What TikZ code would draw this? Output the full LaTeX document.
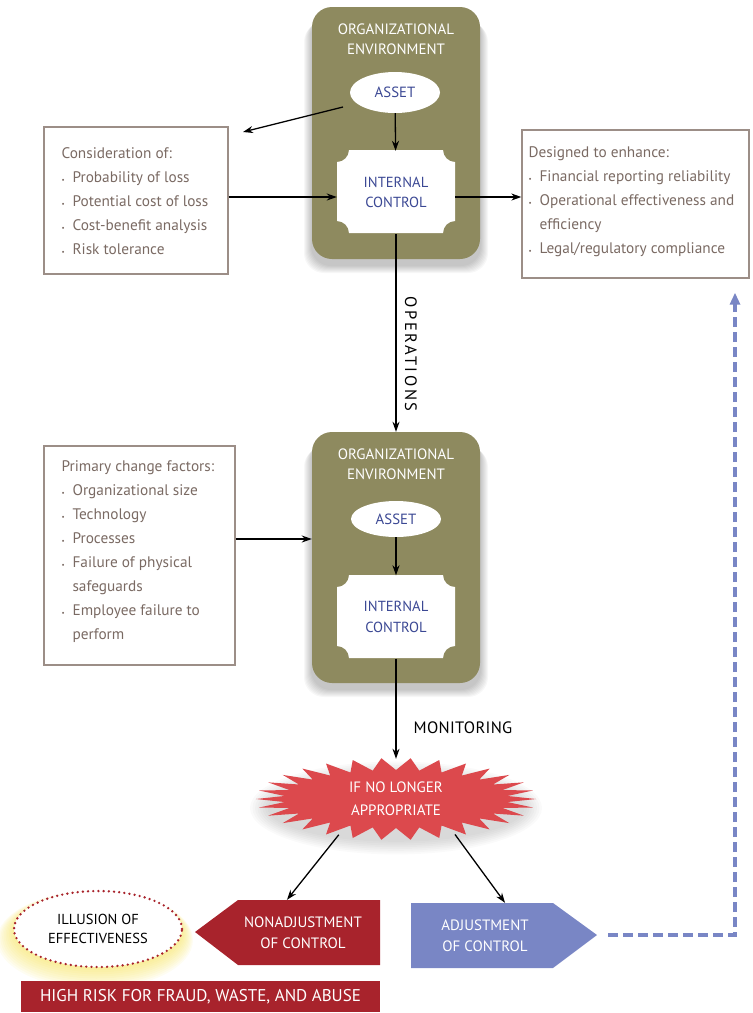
\documentclass[tikz,border=0pt]{standalone}
\usepackage{fontspec}
\setmainfont{PT Sans}
\usetikzlibrary{arrows.meta,shapes.geometric,calc}
\definecolor{envcol}{HTML}{8E8A5F}
\definecolor{boxline}{HTML}{9C8E87}
\definecolor{boxtext}{HTML}{7A6A63}
\definecolor{ictext}{HTML}{3B4894}
\definecolor{burstcol}{HTML}{DC494D}
\definecolor{darkred}{HTML}{A8232C}
\definecolor{adjblue}{HTML}{7986C5}
\definecolor{glowcol}{HTML}{F5E04A}
\newcommand{\bul}{\makebox[11pt][l]{\scriptsize\textbullet}}
\newcommand{\ind}{\hspace*{11pt}}
\begin{document}
\begin{tikzpicture}[x=1pt,y=1pt,
 envbox/.style={fill=envcol, rounded corners=20pt, minimum width=168pt, inner sep=0pt},
 envtitle/.style={text=white, align=center, font=\fontsize{15}{20}\selectfont},
 asset/.style={ellipse, fill=white, minimum width=90pt, inner sep=0pt, text=ictext, font=\fontsize{14.8}{19}\selectfont},
 ictl/.style={minimum width=118pt, minimum height=83pt, inner sep=0pt, text=ictext, align=center, font=\fontsize{14.6}{20.5}\selectfont},
 infobox/.style={draw=boxline, line width=1.3pt, inner sep=0pt},
 infotext/.style={text=boxtext, align=left, anchor=west, inner sep=0pt, font=\fontsize{15.3}{24}\selectfont},
 arr/.style={-{Stealth[length=10pt,width=7pt]}, line width=1.3pt},
 steplabel/.style={inner sep=0pt},
 softshadow/.style={fill=black, opacity=0.03},
 shapetext/.style={text=white, align=center, inner sep=0pt, font=\fontsize{15}{21}\selectfont},
]
\useasboundingbox (0,0) rectangle (753,-1013);

% ---------- soft shadows ----------
\foreach \i in {1,...,8}{
  \fill[softshadow, rounded corners=20pt] ({312-\i},{-14-\i}) rectangle ({480+\i},{-265-\i});
  \fill[softshadow, rounded corners=20pt] ({312-\i},{-439-\i}) rectangle ({480+\i},{-689-\i});
  \fill[fill=black, opacity=0.018] (396,-808) ellipse ({126+2.5*\i} and {32+1.8*\i});
}

% ---------- top environment ----------
\node[envbox, minimum height=252pt] (env1) at (396,-133) {};
\node[envtitle] (env1t) at (396,-39) {ORGANIZATIONAL\\ENVIRONMENT};
\node[asset, minimum height=41pt] (asset1) at (395,-92.5) {ASSET};
\fill[white] (349,-150) -- (443,-150) arc[start angle=180,end angle=270,radius=12]
  -- (455,-221) arc[start angle=90,end angle=180,radius=12]
  -- (349,-233) arc[start angle=0,end angle=90,radius=12]
  -- (337,-162) arc[start angle=270,end angle=360,radius=12] -- cycle;
\node[ictl] (ic1) at (396,-192.5) {INTERNAL\\CONTROL};

% ---------- bottom environment ----------
\node[envbox, minimum height=251pt] (env2) at (396,-557.5) {};
\node[envtitle] (env2t) at (396,-464) {ORGANIZATIONAL\\ENVIRONMENT};
\node[asset, minimum height=36pt] (asset2) at (396,-519) {ASSET};
\fill[white] (349,-575) -- (443,-575) arc[start angle=180,end angle=270,radius=12]
  -- (455,-646) arc[start angle=90,end angle=180,radius=12]
  -- (349,-658) arc[start angle=0,end angle=90,radius=12]
  -- (337,-587) arc[start angle=270,end angle=360,radius=12] -- cycle;
\node[ictl] (ic2) at (396,-617) {INTERNAL\\CONTROL};

% ---------- info boxes ----------
\node[infobox, minimum width=184pt, minimum height=147pt] (left1) at (136,-200.5) {};
\node[infotext] (left1t) at ($(left1.west)+(18,-1)$) {Consideration of:\\\bul Probability of loss\\\bul Potential cost of loss\\\bul Cost-benefit analysis\\\bul Risk tolerance};

\node[infobox, minimum width=227pt, minimum height=148pt] (right1) at (635.5,-204) {};
\node[infotext] (right1t) at ($(right1.west)+(7,2)$) {Designed to enhance:\\\bul Financial reporting reliability\\\bul Operational effectiveness and\\\ind efficiency\\\bul Legal/regulatory compliance};

\node[infobox, minimum width=191pt, minimum height=219pt] (left2) at (139.5,-555.5) {};
\node[infotext] (left2t) at ($(left2.west)+(18,3.5)$) {Primary change factors:\\\bul Organizational size\\\bul Technology\\\bul Processes\\\bul Failure of physical\\\ind safeguards\\\bul Employee failure to\\\ind perform};

% ---------- starburst ----------
\fill[burstcol] (536,-799) \foreach \i in {1,...,59}{ -- ({396+(isodd(\i) ? 112 : 140)*cos(6*\i)}, {-799+(isodd(\i) ? 29 : 41)*sin(6*\i)}) } -- cycle;
\node[ellipse, minimum width=250pt, minimum height=80pt, shapetext, font=\fontsize{15}{23}\selectfont] (burst) at (396,-799) {IF NO LONGER\\APPROPRIATE};

% ---------- outcome shapes ----------
\fill[darkred] (195,-932) -- (238,-900) -- (380,-900) -- (380,-965) -- (238,-965) -- cycle;
\node[shapetext, minimum width=130pt, minimum height=65pt] (nonadj) at (303,-932.5) {NONADJUSTMENT\\OF CONTROL};

\fill[adjblue] (411,-903) -- (553,-903) -- (597,-935) -- (553,-968) -- (411,-968) -- cycle;
\node[shapetext, minimum width=148pt, minimum height=65pt] (adj) at (485,-935.5) {ADJUSTMENT\\OF CONTROL};

\foreach \i in {1,...,10}{
  \fill[glowcol, opacity=0.07] ({98-0.3*\i},{-931-0.9*\i}) ellipse ({84+1.4*\i} and {37+1.2*\i});
}
\node[ellipse, fill=white, draw=darkred, line width=2.6pt, dash pattern=on 0pt off 5.2pt, line cap=round,
  minimum width=168pt, minimum height=76pt, inner sep=0pt, align=center, font=\fontsize{14.5}{19}\selectfont] (illus) at (98,-929) {ILLUSION OF\\EFFECTIVENESS};

\node[fill=darkred, minimum width=359pt, minimum height=31pt, inner sep=0pt, text=white, font=\fontsize{17}{18}\selectfont] (risk) at (200.5,-996.5) {HIGH RISK FOR FRAUD, WASTE, AND ABUSE};

% ---------- connectors ----------
\coordinate (a1s) at (343,-107);
\coordinate (a1e) at (243,-132);
\draw[arr] (a1s) -- (a1e);
\draw[arr] (asset1) -- (ic1);
\draw[arr] (left1.east |- 0,-197) -- (ic1.west |- 0,-197);
\draw[arr] (ic1.east |- 0,-197) -- (right1.west |- 0,-197);
\draw[arr] (ic1) -- (env2);
\node[steplabel, rotate=-90, font=\fontsize{16.5}{18}\selectfont\addfontfeature{LetterSpace=15}] (ops) at (411,-354) {OPERATIONS};
\draw[arr] (asset2) -- (ic2);
\draw[arr] (left2.east |- 0,-539) -- (env2.west |- 0,-539);
\draw[arr] (ic2) -- (burst);
\node[steplabel, font=\fontsize{16.5}{18}\selectfont\addfontfeature{LetterSpace=2}] (mon) at (463,-728) {MONITORING};
\draw[arr] (burst.212) -- ($(nonadj.north west)!0.377!(nonadj.north east)$);
\draw[arr] (burst.329) -- ($(adj.north west)!0.635!(adj.north east)$);

\coordinate (adjtip) at (597,-935);
\coordinate (dend) at ($(right1.south)+(99.5,-14)$);
\draw[adjblue, line width=3.2pt, dash pattern=on 10pt off 5pt, shorten <=11pt,
  -{Triangle[length=12pt,width=10pt]}] (adjtip) -| (dend);
\end{tikzpicture}
\end{document}
